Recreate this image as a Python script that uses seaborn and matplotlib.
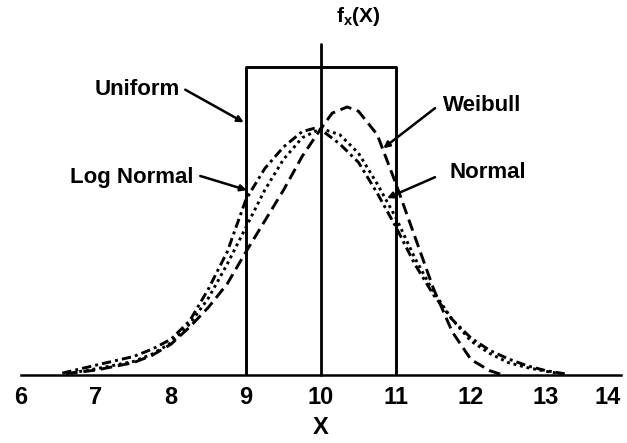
import matplotlib
matplotlib.use("Agg")
import matplotlib.pyplot as plt
import seaborn as sns

# ---- data (density units; uniform height = 0.5) ----
lognormal_x = [6.55, 7.0, 7.5, 7.75, 8.0, 8.25, 8.5, 8.75, 9.0, 9.25, 9.5, 9.75, 9.9, 10.0,
               10.25, 10.5, 10.75, 11.0, 11.25, 11.5, 11.75, 12.0, 12.25, 12.5, 12.75, 13.0, 13.25]
lognormal_y = [0.003, 0.016, 0.03, 0.042, 0.058, 0.088, 0.14, 0.20, 0.285, 0.335, 0.37, 0.395, 0.40, 0.398,
               0.375, 0.345, 0.295, 0.24, 0.18, 0.13, 0.09, 0.06, 0.04, 0.026, 0.015, 0.007, 0.002]

normal_x = [6.6, 7.0, 7.5, 7.75, 8.0, 8.25, 8.5, 8.75, 9.0, 9.25, 9.5, 9.75, 10.0,
            10.25, 10.5, 10.75, 11.0, 11.25, 11.5, 11.75, 12.0, 12.25, 12.5, 12.75, 13.0, 13.2]
normal_y = [0.002, 0.01, 0.022, 0.034, 0.052, 0.083, 0.125, 0.18, 0.24, 0.30, 0.35, 0.385, 0.40,
            0.39, 0.36, 0.31, 0.255, 0.19, 0.135, 0.09, 0.055, 0.035, 0.02, 0.012, 0.006, 0.002]

weibull_x = [6.6, 7.0, 7.5, 7.75, 8.0, 8.25, 8.5, 8.75, 9.0, 9.25, 9.5, 9.75, 10.0, 10.15, 10.35,
             10.5, 10.75, 11.0, 11.25, 11.5, 11.75, 12.0, 12.25, 12.4]
weibull_y = [0.002, 0.008, 0.02, 0.032, 0.05, 0.078, 0.11, 0.148, 0.20, 0.25, 0.30, 0.355, 0.40, 0.425, 0.435,
             0.428, 0.39, 0.31, 0.225, 0.14, 0.07, 0.025, 0.007, 0.001]

uniform_x = [9, 9, 11, 11]
uniform_y = [0, 0.5, 0.5, 0]

tick_values = [6, 7, 8, 9, 10, 11, 12, 13, 14]
tick_labels = ["6", "7", "8", "9", "10", "11", "12", "13", "14"]

labels = ["Uniform", "Log Normal", "Weibull", "Normal"]
label_pos = [(7.55, 0.463), (7.47, 0.321), (12.15, 0.438), (12.23, 0.328)]
arrow_from = [(8.19, 0.463), (8.39, 0.323), (11.52, 0.433), (11.52, 0.321)]
arrow_to = [(8.97, 0.41), (9.01, 0.30), (10.83, 0.368), (10.88, 0.287)]

# ---- styling ----
sns.set_style("white")
plt.rcParams["font.family"] = ["Liberation Sans", "DejaVu Sans"]
plt.rcParams["font.weight"] = "bold"
plt.rcParams["text.color"] = "black"
plt.rcParams["xtick.color"] = "black"
plt.rcParams["axes.labelcolor"] = "black"
plt.rcParams["mathtext.fontset"] = "custom"
plt.rcParams["mathtext.rm"] = "Liberation Sans:bold"
plt.rcParams["mathtext.it"] = "Liberation Sans:bold"
plt.rcParams["mathtext.bf"] = "Liberation Sans:bold"

fig = plt.figure(figsize=(6.27, 4.43), dpi=100)
ax = fig.add_axes([21 / 627, 0.1535, 600 / 627, 0.747])

lw = 2.1
sns.lineplot(x=uniform_x, y=uniform_y, sort=False, estimator=None, color="black",
             lw=lw, ax=ax)
sns.lineplot(x=lognormal_x, y=lognormal_y, estimator=None, color="black", lw=lw,
             linestyle=(0, (3.2, 1.4, 1.0, 1.4)), ax=ax)
sns.lineplot(x=normal_x, y=normal_y, estimator=None, color="black", lw=lw,
             linestyle=(0, (1.0, 1.3)), ax=ax)
sns.lineplot(x=weibull_x, y=weibull_y, estimator=None, color="black", lw=lw,
             linestyle=(0, (4.0, 2.0)), ax=ax)

# vertical f_x axis at x = 10
ax.plot([10, 10], [0, 0.537], color="black", lw=2.0, clip_on=False)

ax.set_xlim(6, 14)
ax.set_ylim(0, 0.537)
for s in ["top", "right", "left"]:
    ax.spines[s].set_visible(False)
ax.spines["bottom"].set_linewidth(1.8)
ax.spines["bottom"].set_color("black")
ax.set_yticks([])
ax.set_xticks(tick_values)
ax.set_xticklabels(tick_labels, fontsize=17, fontweight="bold", color="black")
ax.get_xticklabels()[-1].set_horizontalalignment("right")
ax.tick_params(axis="x", length=0, pad=8)
ax.set_xlabel("X", fontsize=17, fontweight="bold", labelpad=5, color="black")

ax.text(10.5, 0.582, r"$\mathregular{f_x}$(X)", fontsize=15, fontweight="bold",
        ha="center", va="center", clip_on=False, color="black")

for lab, pos, a0, a1 in zip(labels, label_pos, arrow_from, arrow_to):
    ax.text(pos[0], pos[1], lab, fontsize=16, fontweight="bold", ha="center",
            va="center", color="black")
    ax.annotate("", xy=a1, xytext=a0,
                arrowprops=dict(arrowstyle="-|>", color="black", lw=1.8,
                                mutation_scale=9, shrinkA=0, shrinkB=0))

fig.savefig("out.png", dpi=100)
